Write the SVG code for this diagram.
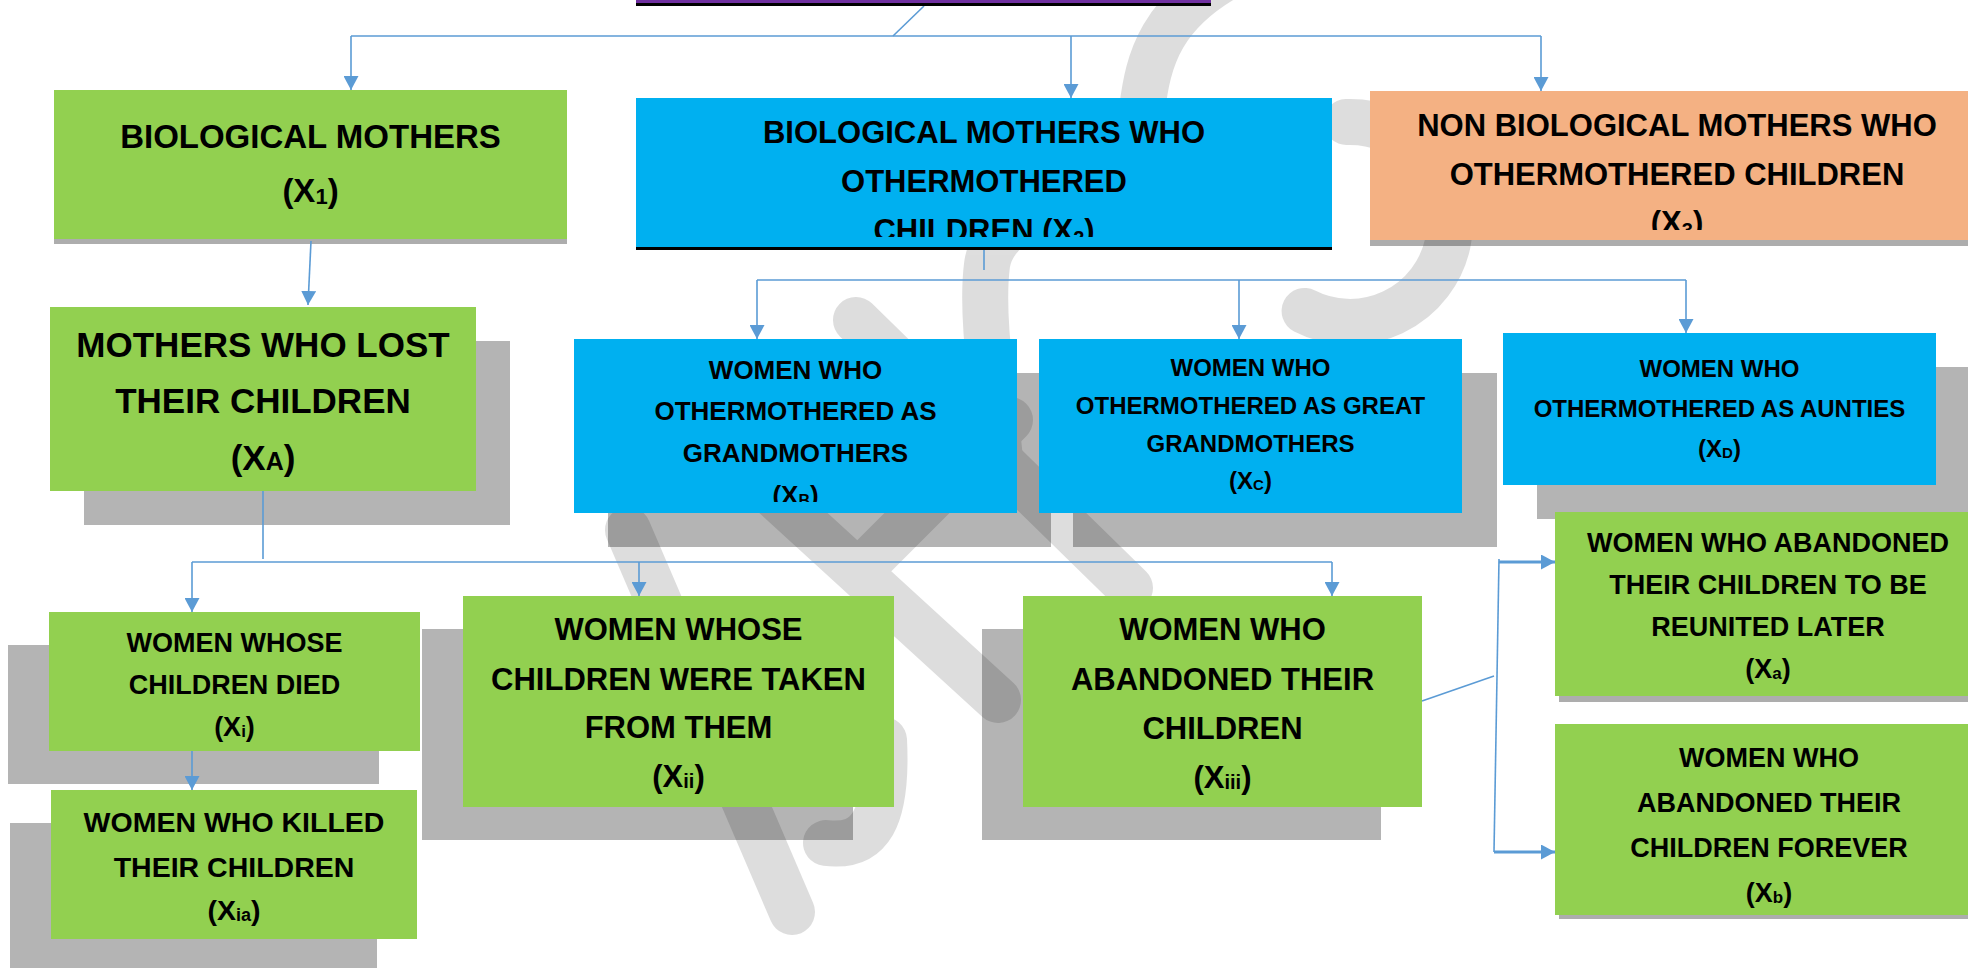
<svg xmlns="http://www.w3.org/2000/svg" width="1968" height="968" viewBox="0 0 1968 968">
<style>
.g{fill:#92D050}
.b{fill:#00B0F0}
.o{fill:#F4B183}
.sh{fill:#B4B4B4}
.strip{fill:#ADADAD}
.t{font-family:"Liberation Sans",Arial,sans-serif;font-weight:bold;fill:#000;text-anchor:middle}
.c{stroke:#5B9BD5;stroke-width:1.6;fill:none}
.ca{stroke:#5B9BD5;stroke-width:1.6;fill:none;marker-end:url(#ah)}
.cw{stroke:#5B9BD5;stroke-width:3;fill:none;marker-end:url(#ah)}
</style>
<defs>
<marker id="ah" markerUnits="userSpaceOnUse" markerWidth="14" markerHeight="15" viewBox="0 0 14 15" refX="14" refY="7.5" orient="auto">
<path d="M0,0 L14,7.5 L0,15 z" fill="#5B9BD5"/>
</marker>
<clipPath id="clipX2"><rect x="636" y="98" width="696" height="139"/></clipPath>
<clipPath id="clipX3"><rect x="1370" y="91" width="620" height="139"/></clipPath>
<clipPath id="clipXB"><rect x="574" y="339" width="443" height="163"/></clipPath>
</defs>
<rect x="0" y="0" width="1968" height="968" fill="#fff"/>

<g id="shadows">
<rect class="strip" x="54" y="239" width="513" height="5"/>
<rect class="strip" x="1370" y="240" width="620" height="6"/>
<rect class="sh" x="84" y="341" width="426" height="184"/>
<rect class="sh" x="608" y="373" width="443" height="174"/>
<rect class="sh" x="1073" y="373" width="424" height="174"/>
<rect class="sh" x="1537" y="367" width="450" height="152"/>
<rect class="sh" x="8" y="645" width="371" height="139"/>
<rect class="sh" x="10" y="823" width="367" height="150"/>
<rect class="sh" x="422" y="629" width="431" height="211"/>
<rect class="sh" x="982" y="629" width="399" height="211"/>
<rect class="strip" x="1559" y="696" width="430" height="6"/>
<rect class="strip" x="1559" y="915" width="430" height="4"/>
</g>

<g id="watermark" opacity="0.13" stroke="#000" stroke-width="46" stroke-linecap="round" fill="none">
<path d="M1240,-30 C1160,10 1148,60 1142,110 C1130,190 995,200 987,265 C980,320 995,400 1000,460"/>
<path d="M1346.5,122 A100,100 0 1 1 1304.6,311"/>
<path d="M856,320 L1130,588"/>
<path d="M628,530 L792,912"/>
<path d="M730,455 L998,700"/>
<path d="M870,560 L1010,420"/>
<path d="M884,740 C888,820 870,848 826,843"/>
</g>

<g id="connectors">
<path class="c" d="M924,6 L893,36"/>
<path class="c" d="M351,36 L1541,36"/>
<path class="ca" d="M351,36 L351,90"/>
<path class="ca" d="M1071,36 L1071,98"/>
<path class="ca" d="M1541,36 L1541,91"/>
<path class="ca" d="M311,241 L308,305"/>
<path class="c" d="M984,250 L984,270"/>
<path class="c" d="M757,280 L1686,280"/>
<path class="ca" d="M757,280 L757,339"/>
<path class="ca" d="M1239,280 L1239,339"/>
<path class="ca" d="M1686,280 L1686,333"/>
<path class="c" d="M263,491 L263,559"/>
<path class="c" d="M192,562 L1332,562"/>
<path class="ca" d="M192,562 L192,612"/>
<path class="ca" d="M639,562 L639,596"/>
<path class="ca" d="M1332,562 L1332,596"/>
<path class="ca" d="M192,751 L192,790"/>
<path class="c" d="M1422,701 L1494,676"/>
<path class="c" d="M1499,559 L1494,852"/>
<path class="cw" d="M1499,562 L1555,562"/>
<path class="cw" d="M1494,852 L1555,852"/>
</g>

<g id="root">
<rect x="636" y="-10" width="575" height="13" fill="#7030A0"/>
<rect x="636" y="3" width="575" height="3" fill="#000"/>
</g>

<g id="X1">
<rect class="g" x="54" y="90" width="513" height="149"/>
<text class="t" x="310.5" y="148" font-size="33">BIOLOGICAL MOTHERS</text>
<text class="t" x="310.5" y="202" font-size="33">(X<tspan font-size="22" dy="2">1</tspan><tspan dy="-2">)</tspan></text>
</g>

<g id="X2">
<rect class="b" x="636" y="98" width="696" height="149"/>
<rect x="636" y="247" width="696" height="3" fill="#000"/>
<g clip-path="url(#clipX2)">
<text class="t" x="984" y="143" font-size="31">BIOLOGICAL MOTHERS WHO</text>
<text class="t" x="984" y="192" font-size="31">OTHERMOTHERED</text>
<text class="t" x="984" y="241" font-size="31">CHILDREN (X<tspan font-size="20" dy="4">2</tspan><tspan dy="-4">)</tspan></text>
</g>
</g>

<g id="X3">
<rect class="o" x="1370" y="91" width="620" height="149"/>
<g clip-path="url(#clipX3)">
<text class="t" x="1677" y="136" font-size="31">NON BIOLOGICAL MOTHERS WHO</text>
<text class="t" x="1677" y="185" font-size="31">OTHERMOTHERED CHILDREN</text>
<text class="t" x="1677" y="233" font-size="31">(X<tspan font-size="20" dy="4">3</tspan><tspan dy="-4">)</tspan></text>
</g>
</g>

<g id="XA">
<rect class="g" x="50" y="307" width="426" height="184"/>
<text class="t" x="263" y="357" font-size="35">MOTHERS WHO LOST</text>
<text class="t" x="263" y="413" font-size="35">THEIR CHILDREN</text>
<text class="t" x="263" y="470" font-size="35">(X<tspan font-size="25">A</tspan>)</text>
</g>

<g id="XB">
<rect class="b" x="574" y="339" width="443" height="174"/>
<g clip-path="url(#clipXB)">
<text class="t" x="795.5" y="379" font-size="26">WOMEN WHO</text>
<text class="t" x="795.5" y="420" font-size="26">OTHERMOTHERED AS</text>
<text class="t" x="795.5" y="462" font-size="26">GRANDMOTHERS</text>
<text class="t" x="795.5" y="504" font-size="26">(X<tspan font-size="16" dy="2">B</tspan><tspan dy="-2">)</tspan></text>
</g>
</g>

<g id="XC">
<rect class="b" x="1039" y="339" width="423" height="174"/>
<text class="t" x="1250.5" y="376" font-size="24">WOMEN WHO</text>
<text class="t" x="1250.5" y="414" font-size="24">OTHERMOTHERED AS GREAT</text>
<text class="t" x="1250.5" y="452" font-size="24">GRANDMOTHERS</text>
<text class="t" x="1250.5" y="489" font-size="24">(X<tspan font-size="15" dy="1">C</tspan><tspan dy="-1">)</tspan></text>
</g>

<g id="XD">
<rect class="b" x="1503" y="333" width="433" height="152"/>
<text class="t" x="1719.5" y="377" font-size="24">WOMEN WHO</text>
<text class="t" x="1719.5" y="417" font-size="24">OTHERMOTHERED AS AUNTIES</text>
<text class="t" x="1719.5" y="457" font-size="24">(X<tspan font-size="15" dy="1">D</tspan><tspan dy="-1">)</tspan></text>
</g>

<g id="Xi">
<rect class="g" x="49" y="612" width="371" height="139"/>
<text class="t" x="234.5" y="652" font-size="27">WOMEN WHOSE</text>
<text class="t" x="234.5" y="694" font-size="27">CHILDREN DIED</text>
<text class="t" x="234.5" y="736" font-size="27">(X<tspan font-size="17" dy="1">i</tspan><tspan dy="-1">)</tspan></text>
</g>

<g id="Xia">
<rect class="g" x="51" y="790" width="366" height="149"/>
<text class="t" x="234" y="832" font-size="28.5">WOMEN WHO KILLED</text>
<text class="t" x="234" y="877" font-size="28.5">THEIR CHILDREN</text>
<text class="t" x="234" y="920" font-size="28.5">(X<tspan font-size="18" dy="1">ia</tspan><tspan dy="-1">)</tspan></text>
</g>

<g id="Xii">
<rect class="g" x="463" y="596" width="431" height="211"/>
<text class="t" x="678.5" y="640" font-size="31">WOMEN WHOSE</text>
<text class="t" x="678.5" y="690" font-size="31">CHILDREN WERE TAKEN</text>
<text class="t" x="678.5" y="738" font-size="31">FROM THEM</text>
<text class="t" x="678.5" y="787" font-size="31">(X<tspan font-size="20" dy="1">ii</tspan><tspan dy="-1">)</tspan></text>
</g>

<g id="Xiii">
<rect class="g" x="1023" y="596" width="399" height="211"/>
<text class="t" x="1222.5" y="640" font-size="31">WOMEN WHO</text>
<text class="t" x="1222.5" y="690" font-size="31">ABANDONED THEIR</text>
<text class="t" x="1222.5" y="739" font-size="31">CHILDREN</text>
<text class="t" x="1222.5" y="788" font-size="31">(X<tspan font-size="20" dy="1">iii</tspan><tspan dy="-1">)</tspan></text>
</g>

<g id="Xa">
<rect class="g" x="1555" y="512" width="435" height="184"/>
<text class="t" x="1768" y="552" font-size="27">WOMEN WHO ABANDONED</text>
<text class="t" x="1768" y="594" font-size="27">THEIR CHILDREN TO BE</text>
<text class="t" x="1768" y="636" font-size="27">REUNITED LATER</text>
<text class="t" x="1768" y="678" font-size="27">(X<tspan font-size="17" dy="1">a</tspan><tspan dy="-1">)</tspan></text>
</g>

<g id="Xb">
<rect class="g" x="1555" y="724" width="435" height="191"/>
<text class="t" x="1769" y="767" font-size="27">WOMEN WHO</text>
<text class="t" x="1769" y="812" font-size="27">ABANDONED THEIR</text>
<text class="t" x="1769" y="857" font-size="27">CHILDREN FOREVER</text>
<text class="t" x="1769" y="902" font-size="27">(X<tspan font-size="17" dy="1">b</tspan><tspan dy="-1">)</tspan></text>
</g>
</svg>
